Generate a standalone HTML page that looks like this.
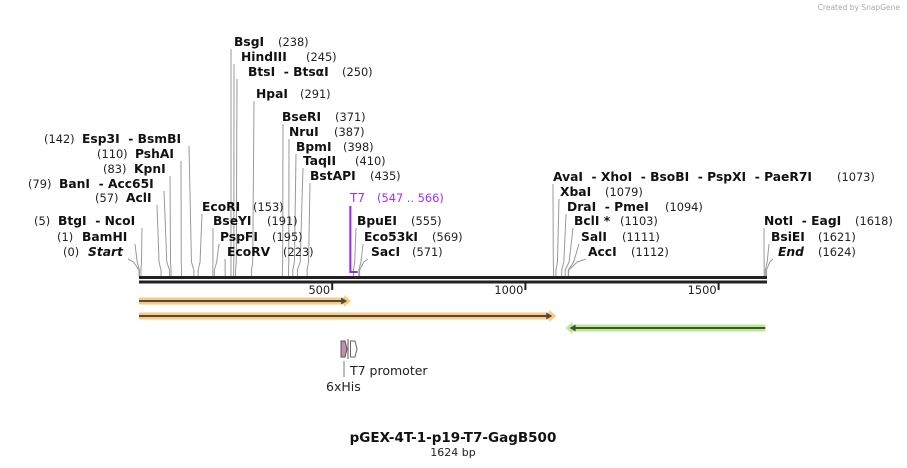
<!DOCTYPE html>
<html><head><meta charset="utf-8"><style>
body{margin:0;background:#fff;}
svg{display:block;font-family:"DejaVu Sans","Liberation Sans",sans-serif;}
.n{font-weight:bold;font-size:12.3px;fill:#111;}
.p{font-size:11.4px;fill:#222;}
</style></head><body>
<svg id="map" width="907" height="468" viewBox="0 0 907 468" xmlns="http://www.w3.org/2000/svg">
<text x="900" y="10" text-anchor="end" font-size="7.5" fill="#aaa">Created by SnapGene</text>
<g id="leaders"></g>
<g id="labels"></g>
<line x1="139" y1="277.5" x2="767" y2="277.5" stroke="#222" stroke-width="3"/>
<line x1="139" y1="282" x2="767" y2="282" stroke="#222" stroke-width="3"/>
<g id="ticks"></g>
<g id="feats"></g>
<text x="453" y="442" text-anchor="middle" font-weight="bold" font-size="13.5" fill="#111">pGEX-4T-1-p19-T7-GagB500</text>
<text x="453" y="456" text-anchor="middle" font-size="11" fill="#222">1624 bp</text>
</svg>
<script>
const seqLen = 1624;
const tickValues = [500, 1000, 1500];
const siteNames = ["Start","BamHI","BtgI  - NcoI","AclI","BanI  - Acc65I","KpnI","PshAI","Esp3I  - BsmBI","EcoRI","BseYI","PspFI","EcoRV","BsgI","HindIII","BtsI  - BtsαI","HpaI","BseRI","NruI","BpmI","TaqII","BstAPI","BpuEI","Eco53kI","SacI","AvaI  - XhoI  - BsoBI  - PspXI  - PaeR7I","XbaI","DraI  - PmeI","BclI *","SalI","AccI","NotI  - EagI","BsiEI","End"];
const sitePositions = [0,1,5,57,79,83,110,142,153,191,195,223,238,245,250,291,371,387,398,410,435,555,569,571,1073,1079,1094,1103,1111,1112,1618,1621,1624];
// layout: [nameX, baselineY, numX, leaderX, numberOnLeft]
const layout = [
[88,256,63,128,1],[82,241,57,135,1],[58,225,34,142,1],[126,202,95,157,1],[59,188,28,164,1],[134,173,103,170,1],[135,158,97,181,1],[82,143,44,189,1],
[202,211,253,202,0],[213,225,267,213,0],[220,241,272,219,0],[227,256,283,225,0],
[234,46,278,231,0],[241,61,306,234,0],[248,76,342,237,0],[256,98,300,254,0],[282,121,335,283,0],[289,136,334,289,0],[296,151,343,296,0],[303,165,355,303,0],[310,180,370,310,0],
[357,225,411,356,0],[364,241,432,363,0],[371,256,412,368,0],
[553,181,837,553,0],[560,196,605,559,0],[567,211,665,566,0],[574,225,620,573,0],[581,241,622,579,0],[588,256,631,586,0],
[764,225,855,764,0],[771,241,818,769,0],[778,256,818,773,0]];
const x0 = 139, x1 = 766.5;
function xs(bp){ return x0 + bp*(x1-x0)/seqLen; }
const NS = "http://www.w3.org/2000/svg";
function mk(tag, attrs, parent){ const e=document.createElementNS(NS,tag); for(const k in attrs) e.setAttribute(k,attrs[k]); parent.appendChild(e); return e; }
const L = document.getElementById('leaders'), T = document.getElementById('labels');
siteNames.forEach((nm,i)=>{
  const [nx,ny,px,lx,left] = layout[i];
  const sx = xs(sitePositions[i]);
  const ly = ny+3;
  const pl = mk('polyline',{points:`${lx},${ly} ${lx+(sx-lx)*0.5},${Math.max(ly,262)} ${sx},270 ${sx},276`,fill:'none',stroke:'#999','stroke-width':1},L);
  
  
  const t = mk('text',{x:nx,y:ny,class:'n'},T);
  if(nm==='Start'||nm==='End') t.setAttribute('font-style','italic');
  t.textContent = nm;
  t.style.whiteSpace='pre';
  t.setAttribute('xml:space','preserve');
  
  
  const p = mk('text',{x:px,y:ny,class:'p'},T);
  p.textContent = '('+sitePositions[i]+')';
  
  
});
const TK = document.getElementById('ticks');
tickValues.forEach(v=>{
  const x = xs(v);
  const l = mk('line',{x1:x,y1:283,x2:x,y2:290,stroke:'#222','stroke-width':2},TK);
  
  
  const t = mk('text',{x:x-2,y:294,'text-anchor':'end','font-size':'11.4',fill:'#222'},TK);
  t.textContent = v;
  
  
});
const F = document.getElementById('feats');
const t7s = 547, t7e = 566;
const br = mk('path',{d:`M${xs(t7s)},206 V272 H${xs(t7e)}`,fill:'none',stroke:'#a020f0','stroke-width':2},F);


const t7a = mk('text',{x:350,y:202,'font-size':'12',fill:'#a030f0'},F); t7a.textContent='T7';


const t7b = mk('text',{x:377,y:202,'font-size':'11.4',fill:'#a030f0'},F); t7b.textContent='(547 .. 566)';


const arrowStarts = [0, 0, 1621];
const arrowEnds = [536, 1067, 1117];
const arrowY = [301, 316, 328];
const arrowGlow = ['#fdc97a','#fdc97a','#b6ee8a'];
arrowStarts.forEach((s,i)=>{
  const a = xs(s), b = xs(arrowEnds[i]), y = arrowY[i];
  const dir = b>a?1:-1;
  const g = mk('g',{},F);
  
  
  mk('rect',{x:Math.min(a,b),y:y-3.5,width:Math.abs(b-a),height:7,fill:arrowGlow[i]},g);
  mk('polygon',{points:`${b-dir*2},${y-6} ${b+dir*5},${y} ${b-dir*2},${y+6}`,fill:arrowGlow[i]},g);
  mk('line',{x1:a,y1:y,x2:b-dir*3,y2:y,stroke:'#4a4a4a','stroke-width':2},g);
  mk('polygon',{points:`${b-dir*5},${y-3.5} ${b+dir*1},${y} ${b-dir*5},${y+3.5}`,fill:'#4a4a4a'},g);
});
const his = mk('path',{d:'M341,341 H345 L347,349 L345,357 H341 Z',fill:'#c28fac',stroke:'#555','stroke-width':1},F);


const hl = mk('line',{x1:348,y1:339,x2:348,y2:359,stroke:'#555','stroke-width':1},F);


const pr = mk('path',{d:'M350.5,341 H355 L357,349 L355,357 H350.5 Z',fill:'#fff',stroke:'#666','stroke-width':1},F);


const hl2 = mk('line',{x1:344,y1:361,x2:344,y2:377,stroke:'#777','stroke-width':1},F);


const hx = mk('text',{x:326,y:391,'font-size':'12.5',fill:'#222'},F); hx.textContent='6xHis';


const tp = mk('text',{x:350,y:375,'font-size':'12.5',fill:'#222'},F); tp.textContent='T7 promoter';


</script>
</body></html>
